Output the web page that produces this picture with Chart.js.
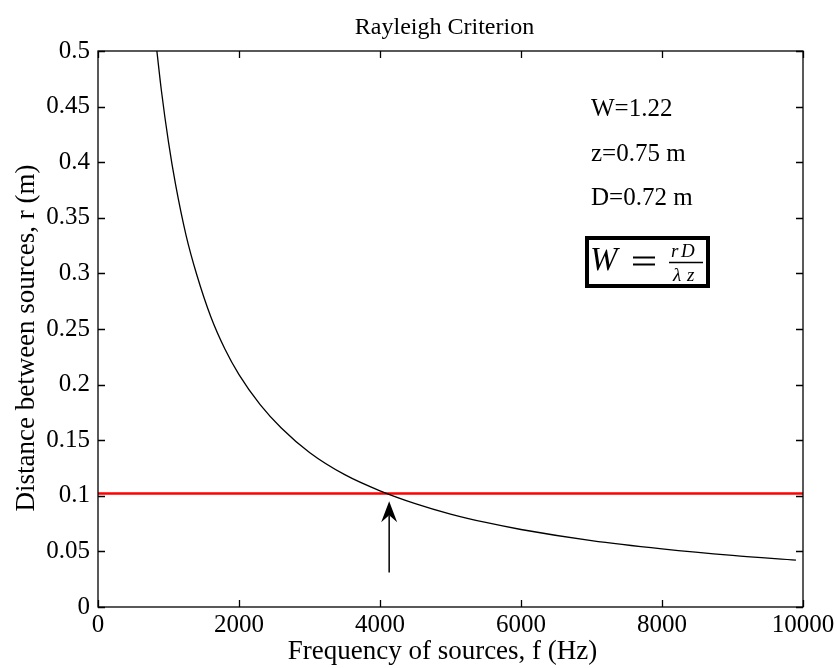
<!DOCTYPE html>
<html>
<head>
<meta charset="utf-8">
<script src="https://cdn.jsdelivr.net/npm/chart.js@4.4.1/dist/chart.umd.min.js"></script>
<style>
  html, body { margin: 0; padding: 0; background: #fff; }
  #wrap { width: 837px; height: 668px; }
</style>
</head>
<body>
<div id="wrap"><canvas id="rayleigh"></canvas></div>
<script>
// Values
const freqs = [835, 900, 1000, 1100, 1250, 1400, 1600, 1800, 2000, 2300, 2600, 3000, 3500, 4000, 4500, 5000, 5500, 6000, 7000, 8000, 9000, 9900];
const dist = [0.5, 0.464, 0.418, 0.380, 0.334, 0.299, 0.261, 0.232, 0.209, 0.182, 0.161, 0.139, 0.119, 0.1045, 0.093, 0.0836, 0.076, 0.0697, 0.0597, 0.0523, 0.0464, 0.0422];
const limitX = [0, 10000];
const limitY = [0.102, 0.102];
const arrowX = [4130, 4130];
const arrowY = [0.031, 0.095];
const xTicks = [0, 2000, 4000, 6000, 8000, 10000];
const yTicks = [0, 0.05, 0.1, 0.15, 0.2, 0.25, 0.3, 0.35, 0.4, 0.45, 0.5];
const notes = ['W=1.22', 'z=0.75 m', 'D=0.72 m'];

const serif = '"Liberation Serif", "DejaVu Serif", serif';

// Box, inward ticks, arrow, labels and the boxed formula
const decorations = {
    id: 'decorations',
    afterDraw(chart) {
        const ctx = chart.ctx;
        const a = chart.chartArea;
        const xs = chart.scales.x, ys = chart.scales.y;
        ctx.save();

        // frame
        ctx.strokeStyle = '#000';
        ctx.lineWidth = 1.3;
        ctx.strokeRect(a.left, a.top, a.right - a.left, a.bottom - a.top);

        // inward ticks on all four sides
        const tl = 7;
        ctx.beginPath();
        xTicks.forEach(v => {
            const px = Math.round(xs.getPixelForValue(v)) + 0.5;
            ctx.moveTo(px, a.bottom); ctx.lineTo(px, a.bottom - tl);
            ctx.moveTo(px, a.top); ctx.lineTo(px, a.top + tl);
        });
        yTicks.forEach(v => {
            const py = Math.round(ys.getPixelForValue(v)) + 0.5;
            ctx.moveTo(a.left, py); ctx.lineTo(a.left + tl, py);
            ctx.moveTo(a.right, py); ctx.lineTo(a.right - tl, py);
        });
        ctx.stroke();

        // arrow
        const ax = xs.getPixelForValue(arrowX[0]);
        const y0 = ys.getPixelForValue(arrowY[0]);
        const y1 = ys.getPixelForValue(arrowY[1]);
        ctx.lineWidth = 1.5;
        ctx.beginPath();
        ctx.moveTo(ax, y0); ctx.lineTo(ax, y1 + 14);
        ctx.stroke();
        ctx.fillStyle = '#000';
        ctx.beginPath();
        ctx.moveTo(ax, y1);
        ctx.lineTo(ax + 8, y1 + 21);
        ctx.lineTo(ax, y1 + 14);
        ctx.lineTo(ax - 8, y1 + 21);
        ctx.closePath();
        ctx.fill();

        // title and axis labels
        ctx.fillStyle = '#000';
        ctx.font = '24px ' + serif;
        ctx.textAlign = 'center';
        ctx.textBaseline = 'alphabetic';
        ctx.fillText('Rayleigh Criterion', (a.left + a.right) / 2 - 6, 34);
        ctx.font = '27px ' + serif;
        ctx.fillText('Frequency of sources, f (Hz)', (a.left + a.right) / 2 - 8, 659);
        ctx.save();
        ctx.translate(34, 338);
        ctx.rotate(-Math.PI / 2);
        ctx.fillText('Distance between sources, r (m)', 0, 0);
        ctx.restore();

        // parameter notes
        ctx.textAlign = 'left';
        ctx.font = '25px ' + serif;
        notes.forEach((t, i) => ctx.fillText(t, 591, 116 + i * 44.5));

        // boxed formula
        ctx.lineWidth = 4;
        ctx.strokeRect(587, 238, 121, 48);
        ctx.font = 'italic 33px ' + serif;
        ctx.fillText('W', 590, 270);
        ctx.lineWidth = 1.8;
        ctx.beginPath();
        ctx.moveTo(633, 257.5); ctx.lineTo(655, 257.5);
        ctx.moveTo(633, 264.5); ctx.lineTo(655, 264.5);
        ctx.stroke();
        ctx.font = 'italic 19px ' + serif;
        ctx.fillText('r', 671, 257);
        ctx.fillText('D', 681, 257);
        ctx.fillText('\u03bb', 673, 281);
        ctx.fillText('z', 687, 281);
        ctx.lineWidth = 1.4;
        ctx.beginPath();
        ctx.moveTo(669, 262.5); ctx.lineTo(703, 262.5);
        ctx.stroke();

        ctx.restore();
    }
};

new Chart(document.getElementById('rayleigh'), {
    type: 'line',
    data: {
        datasets: [
            {
                data: freqs.map((f, i) => ({ x: f, y: dist[i] })),
                borderColor: '#000',
                borderWidth: 1.3,
                pointRadius: 0,
                cubicInterpolationMode: 'monotone'
            },
            {
                data: limitX.map((f, i) => ({ x: f, y: limitY[i] })),
                borderColor: '#ff0000',
                borderWidth: 2.5,
                pointRadius: 0
            }
        ]
    },
    options: {
        responsive: true,
        maintainAspectRatio: false,
        animation: false,
        layout: { padding: { top: 51, right: 34, left: 0, bottom: 0 } },
        plugins: {
            legend: { display: false },
            tooltip: { enabled: false }
        },
        scales: {
            x: {
                type: 'linear',
                min: 0,
                max: 10000,
                afterFit: s => { s.height = 61; s.paddingLeft = 0; s.paddingRight = 0; },
                afterBuildTicks: s => { s.ticks = xTicks.map(v => ({ value: v })); },
                grid: { display: false, drawTicks: false },
                border: { display: false },
                ticks: {
                    padding: 3,
                    maxRotation: 0,
                    color: '#000',
                    font: { family: serif, size: 25 },
                    callback: v => String(v)
                }
            },
            y: {
                min: 0,
                max: 0.5,
                afterFit: s => { s.width = 98; s.paddingTop = 0; s.paddingBottom = 0; },
                afterBuildTicks: s => { s.ticks = yTicks.map(v => ({ value: v })); },
                grid: { display: false, drawTicks: false },
                border: { display: false },
                ticks: {
                    padding: 8,
                    color: '#000',
                    font: { family: serif, size: 25 },
                    callback: v => String(+v.toFixed(2))
                }
            }
        }
    },
    plugins: [decorations]
});
</script>
</body>
</html>
